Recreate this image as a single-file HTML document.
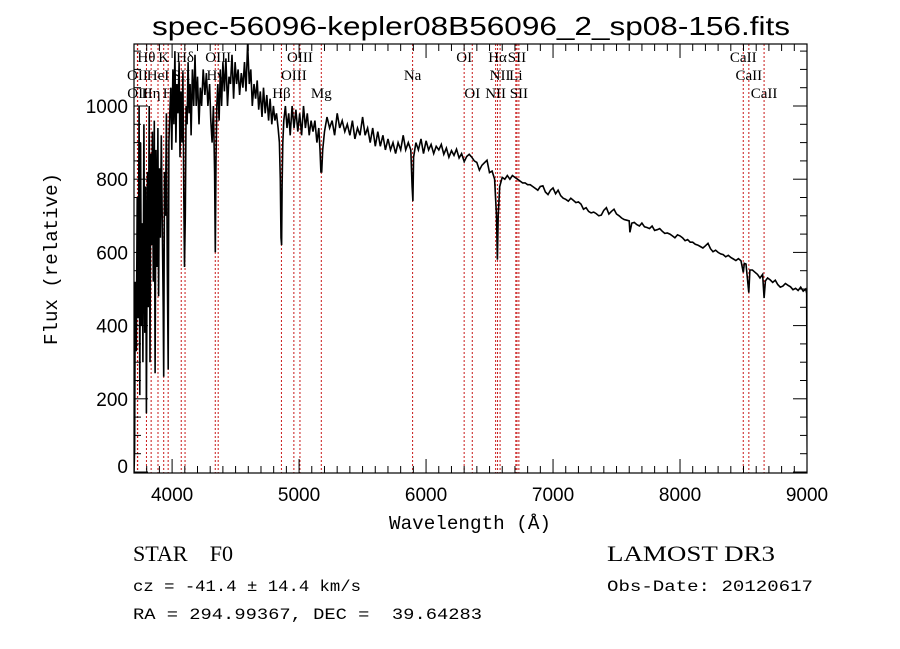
<!DOCTYPE html>
<html><head><meta charset="utf-8"><title>spectrum</title>
<style>html,body{margin:0;padding:0;background:#fff}svg{display:block}text{white-space:pre}</style></head>
<body>
<svg id="chart" width="900" height="649" viewBox="0 0 900 649" xmlns="http://www.w3.org/2000/svg" xml:space="preserve">
<rect x="0" y="0" width="900" height="649" fill="#fff"/>
<text x="471" y="35" text-anchor="middle" font-family="Liberation Sans, sans-serif" font-size="26" textLength="638" lengthAdjust="spacingAndGlyphs">spec-56096-kepler08B56096_2_sp08-156.fits</text>
<defs><clipPath id="plotclip"><rect x="134" y="44" width="673" height="429"/></clipPath></defs>
<g id="lines" clip-path="url(#plotclip)"></g>
<g id="spec" clip-path="url(#plotclip)"></g>
<g id="labels"></g>
<g id="axes"></g>
<text x="470" y="529" text-anchor="middle" font-family="Liberation Mono, monospace" font-size="19" textLength="162" lengthAdjust="spacingAndGlyphs">Wavelength (Å)</text>
<text transform="translate(57,259) rotate(-90)" text-anchor="middle" font-family="Liberation Mono, monospace" font-size="19" textLength="172" lengthAdjust="spacingAndGlyphs">Flux (relative)</text>
<text x="133" y="561" font-family="Liberation Serif, serif" font-size="22" textLength="100" lengthAdjust="spacingAndGlyphs">STAR    F0</text>
<text x="607" y="561" font-family="Liberation Serif, serif" font-size="22" textLength="168" lengthAdjust="spacingAndGlyphs">LAMOST DR3</text>
<text x="133" y="591" font-family="Liberation Mono, monospace" font-size="16" textLength="228" lengthAdjust="spacingAndGlyphs">cz = -41.4 ± 14.4 km/s</text>
<text x="607" y="591" font-family="Liberation Mono, monospace" font-size="16" textLength="206" lengthAdjust="spacingAndGlyphs">Obs-Date: 20120617</text>
<text x="133" y="619" font-family="Liberation Mono, monospace" font-size="16" textLength="349" lengthAdjust="spacingAndGlyphs">RA = 294.99367, DEC =  39.64283</text>
</svg>
<script>
const wavelengths = [3700,3705,3710,3718,3725,3732,3740,3746,3752,3758,3765,3770,3778,3785,3792,3798,3806,3812,3820,3826,3832,3838,3845,3852,3860,3866,3873,3880,3888,3894,3900,3908,3915,3922,3930,3934,3940,3948,3955,3962,3969,3975,3982,3990,3998,4006,4014,4022,4030,4038,4046,4055,4062,4070,4078,4085,4092,4098,4104,4110,4118,4126,4134,4142,4150,4160,4170,4180,4190,4200,4212,4222,4232,4245,4258,4270,4282,4295,4305,4315,4325,4335,4340,4346,4352,4360,4370,4380,4390,4400,4412,4424,4436,4448,4460,4472,4484,4496,4508,4520,4532,4545,4558,4570,4582,4595,4608,4620,4632,4645,4658,4670,4682,4695,4708,4720,4733,4746,4760,4772,4785,4798,4810,4822,4835,4845,4852,4858,4862,4866,4872,4880,4892,4905,4918,4930,4945,4960,4975,4990,5005,5020,5035,5050,5065,5080,5095,5110,5125,5140,5155,5165,5172,5178,5186,5200,5220,5240,5260,5280,5300,5320,5340,5360,5380,5400,5420,5440,5460,5480,5500,5520,5540,5560,5580,5600,5620,5640,5660,5680,5700,5720,5740,5760,5780,5800,5820,5840,5860,5880,5890,5896,5902,5920,5940,5960,5980,6000,6020,6040,6060,6080,6100,6120,6140,6160,6180,6200,6220,6240,6260,6280,6300,6320,6340,6360,6380,6400,6420,6440,6460,6480,6500,6520,6540,6555,6562,6568,6580,6600,6620,6640,6660,6680,6700,6720,6740,6760,6780,6800,6820,6840,6860,6880,6900,6920,6940,6960,6980,7000,7020,7040,7060,7080,7100,7120,7140,7160,7180,7200,7220,7240,7260,7280,7300,7320,7340,7360,7380,7400,7420,7440,7460,7480,7500,7520,7540,7560,7580,7600,7605,7620,7640,7660,7680,7700,7720,7740,7760,7780,7800,7820,7840,7860,7880,7900,7920,7940,7960,7980,8000,8020,8040,8060,8080,8100,8120,8140,8160,8180,8200,8220,8240,8260,8280,8300,8320,8340,8360,8380,8400,8420,8440,8460,8480,8498,8506,8520,8542,8550,8570,8590,8610,8630,8650,8662,8672,8690,8710,8730,8750,8770,8790,8810,8830,8850,8870,8890,8910,8930,8950,8970,8990,8998,9000,9003];
const fluxes = [0,60,520,330,750,420,1000,210,900,400,680,300,950,380,780,160,820,450,1000,300,870,620,930,520,960,270,880,560,940,480,830,640,920,700,450,260,820,700,980,560,280,900,980,1050,880,1100,950,1150,900,1060,980,1120,860,1040,900,1090,760,560,700,1000,950,1120,980,1060,920,1100,1000,1140,1000,1080,950,1050,1000,1100,1030,1090,1000,1060,960,900,1000,820,600,850,1000,1060,960,1100,1000,1120,1040,1130,1000,1080,1060,1140,1020,1120,1060,1100,1030,1090,1050,1120,1040,1170,1060,1100,1000,1060,1020,1070,990,1040,970,1050,980,1030,960,1020,950,1000,960,980,940,900,800,640,620,780,900,960,1000,940,980,920,1000,940,990,930,980,920,1000,940,980,920,960,930,960,900,940,880,820,820,880,930,970,940,960,920,980,940,960,930,950,920,960,910,940,920,970,920,940,900,940,890,930,890,920,880,910,880,900,870,900,880,920,880,900,880,780,740,860,900,880,910,870,905,880,895,870,890,880,895,868,885,860,878,865,882,858,870,848,862,868,860,850,846,825,838,845,852,818,822,800,700,580,700,780,805,800,810,800,810,805,800,795,790,790,785,785,780,775,770,780,782,765,758,770,776,760,770,755,748,745,740,748,742,736,738,732,718,722,712,708,710,706,700,702,715,722,705,712,718,705,700,694,690,688,686,655,680,682,676,672,680,670,668,665,672,660,662,665,658,652,653,650,645,640,648,645,640,632,635,628,628,622,620,616,612,618,625,610,602,606,600,596,594,588,592,586,582,578,583,577,545,570,568,490,552,552,546,540,530,540,475,522,530,525,518,524,512,505,508,515,510,506,498,502,496,505,494,500,488,170,0];
const lineNames = ["Hθ","K","Hδ","OIII","OIII","OI","Hα","SII","CaII","OII","HeI","SII","Hγ","OIII","Na","NII","Li","CaII","OII","Hη","H","Hβ","Mg","OI","NII","SII","CaII"];
const lineWaves = [3798,3934,4102,4363,5007,6300,6563,6716,8498,3727,3889,4072,4340,4959,5894,6583,6707,8542,3729,3835,3969,4861,5175,6364,6548,6731,8662];
const lineRows = [0,0,0,0,0,0,0,0,0,1,1,1,1,1,1,1,1,1,2,2,2,2,2,2,2,2,2];
const xTicks = [4000,5000,6000,7000,8000,9000];
const yTicks = [0,200,400,600,800,1000];

const NS="http://www.w3.org/2000/svg";
const X0=134,X1=807,Y0=44,Y1=473, WMIN=3700,WMAX=9000;
function xs(w){return X0+(w-WMIN)*(X1-X0)/(WMAX-WMIN);}
function ys(v){return 472-v*0.366;}
function mk(t,attrs,parent){const e=document.createElementNS(NS,t);for(const k in attrs)e.setAttribute(k,attrs[k]);parent.appendChild(e);return e;}

const gl=document.getElementById('lines'), glab=document.getElementById('labels');
const rowY=[62,80,98];
for(let i=0;i<lineWaves.length;i++){
  const x=xs(lineWaves[i]);
  const l=mk('line',{x1:x,x2:x,y1:Y0,y2:Y1,stroke:'#c81818','stroke-width':1,'stroke-dasharray':'2,2'},gl);
  
  
  const t=mk('text',{x:x,y:rowY[lineRows[i]],'text-anchor':'middle','font-family':'Liberation Serif, serif','font-size':15},glab);
  t.textContent=lineNames[i];
  
  
}

const pts=wavelengths.map((w,i)=>xs(w).toFixed(1)+','+ys(fluxes[i]).toFixed(1)).join(' ');
const pl=mk('polyline',{points:pts,fill:'none',stroke:'#000','stroke-width':1.6,'stroke-linejoin':'miter'},document.getElementById('spec'));



const ga=document.getElementById('axes');
const fr=mk('rect',{x:X0,y:Y0,width:X1-X0,height:Y1-Y0,fill:'none',stroke:'#000','stroke-width':1.2},ga);


for(let w=3700;w<=9000;w+=100){
  const x=xs(w), major=(w%1000===0), len=major?14:7;
  mk('line',{x1:x,x2:x,y1:Y1,y2:Y1-len,stroke:'#000','stroke-width':1},ga);
  mk('line',{x1:x,x2:x,y1:Y0,y2:Y0+len,stroke:'#000','stroke-width':1},ga);
}
for(let v=0;v<=1150;v+=50){
  const y=ys(v), major=(v%200===0), len=major?14:7;
  mk('line',{x1:X0,x2:X0+len,y1:y,y2:y,stroke:'#000','stroke-width':1},ga);
  mk('line',{x1:X1,x2:X1-len,y1:y,y2:y,stroke:'#000','stroke-width':1},ga);
}
xTicks.forEach(w=>{
  const t=mk('text',{x:xs(w),y:501,'text-anchor':'middle','font-family':'Liberation Sans, sans-serif','font-size':19},ga);
  t.textContent=w;
  
  
});
yTicks.forEach(v=>{
  const y=v===0?ys(v)-6:ys(v);
  const t=mk('text',{x:128,y:y+7,'text-anchor':'end','font-family':'Liberation Sans, sans-serif','font-size':19},ga);
  t.textContent=v;
  
  
});
</script>
</body></html>
